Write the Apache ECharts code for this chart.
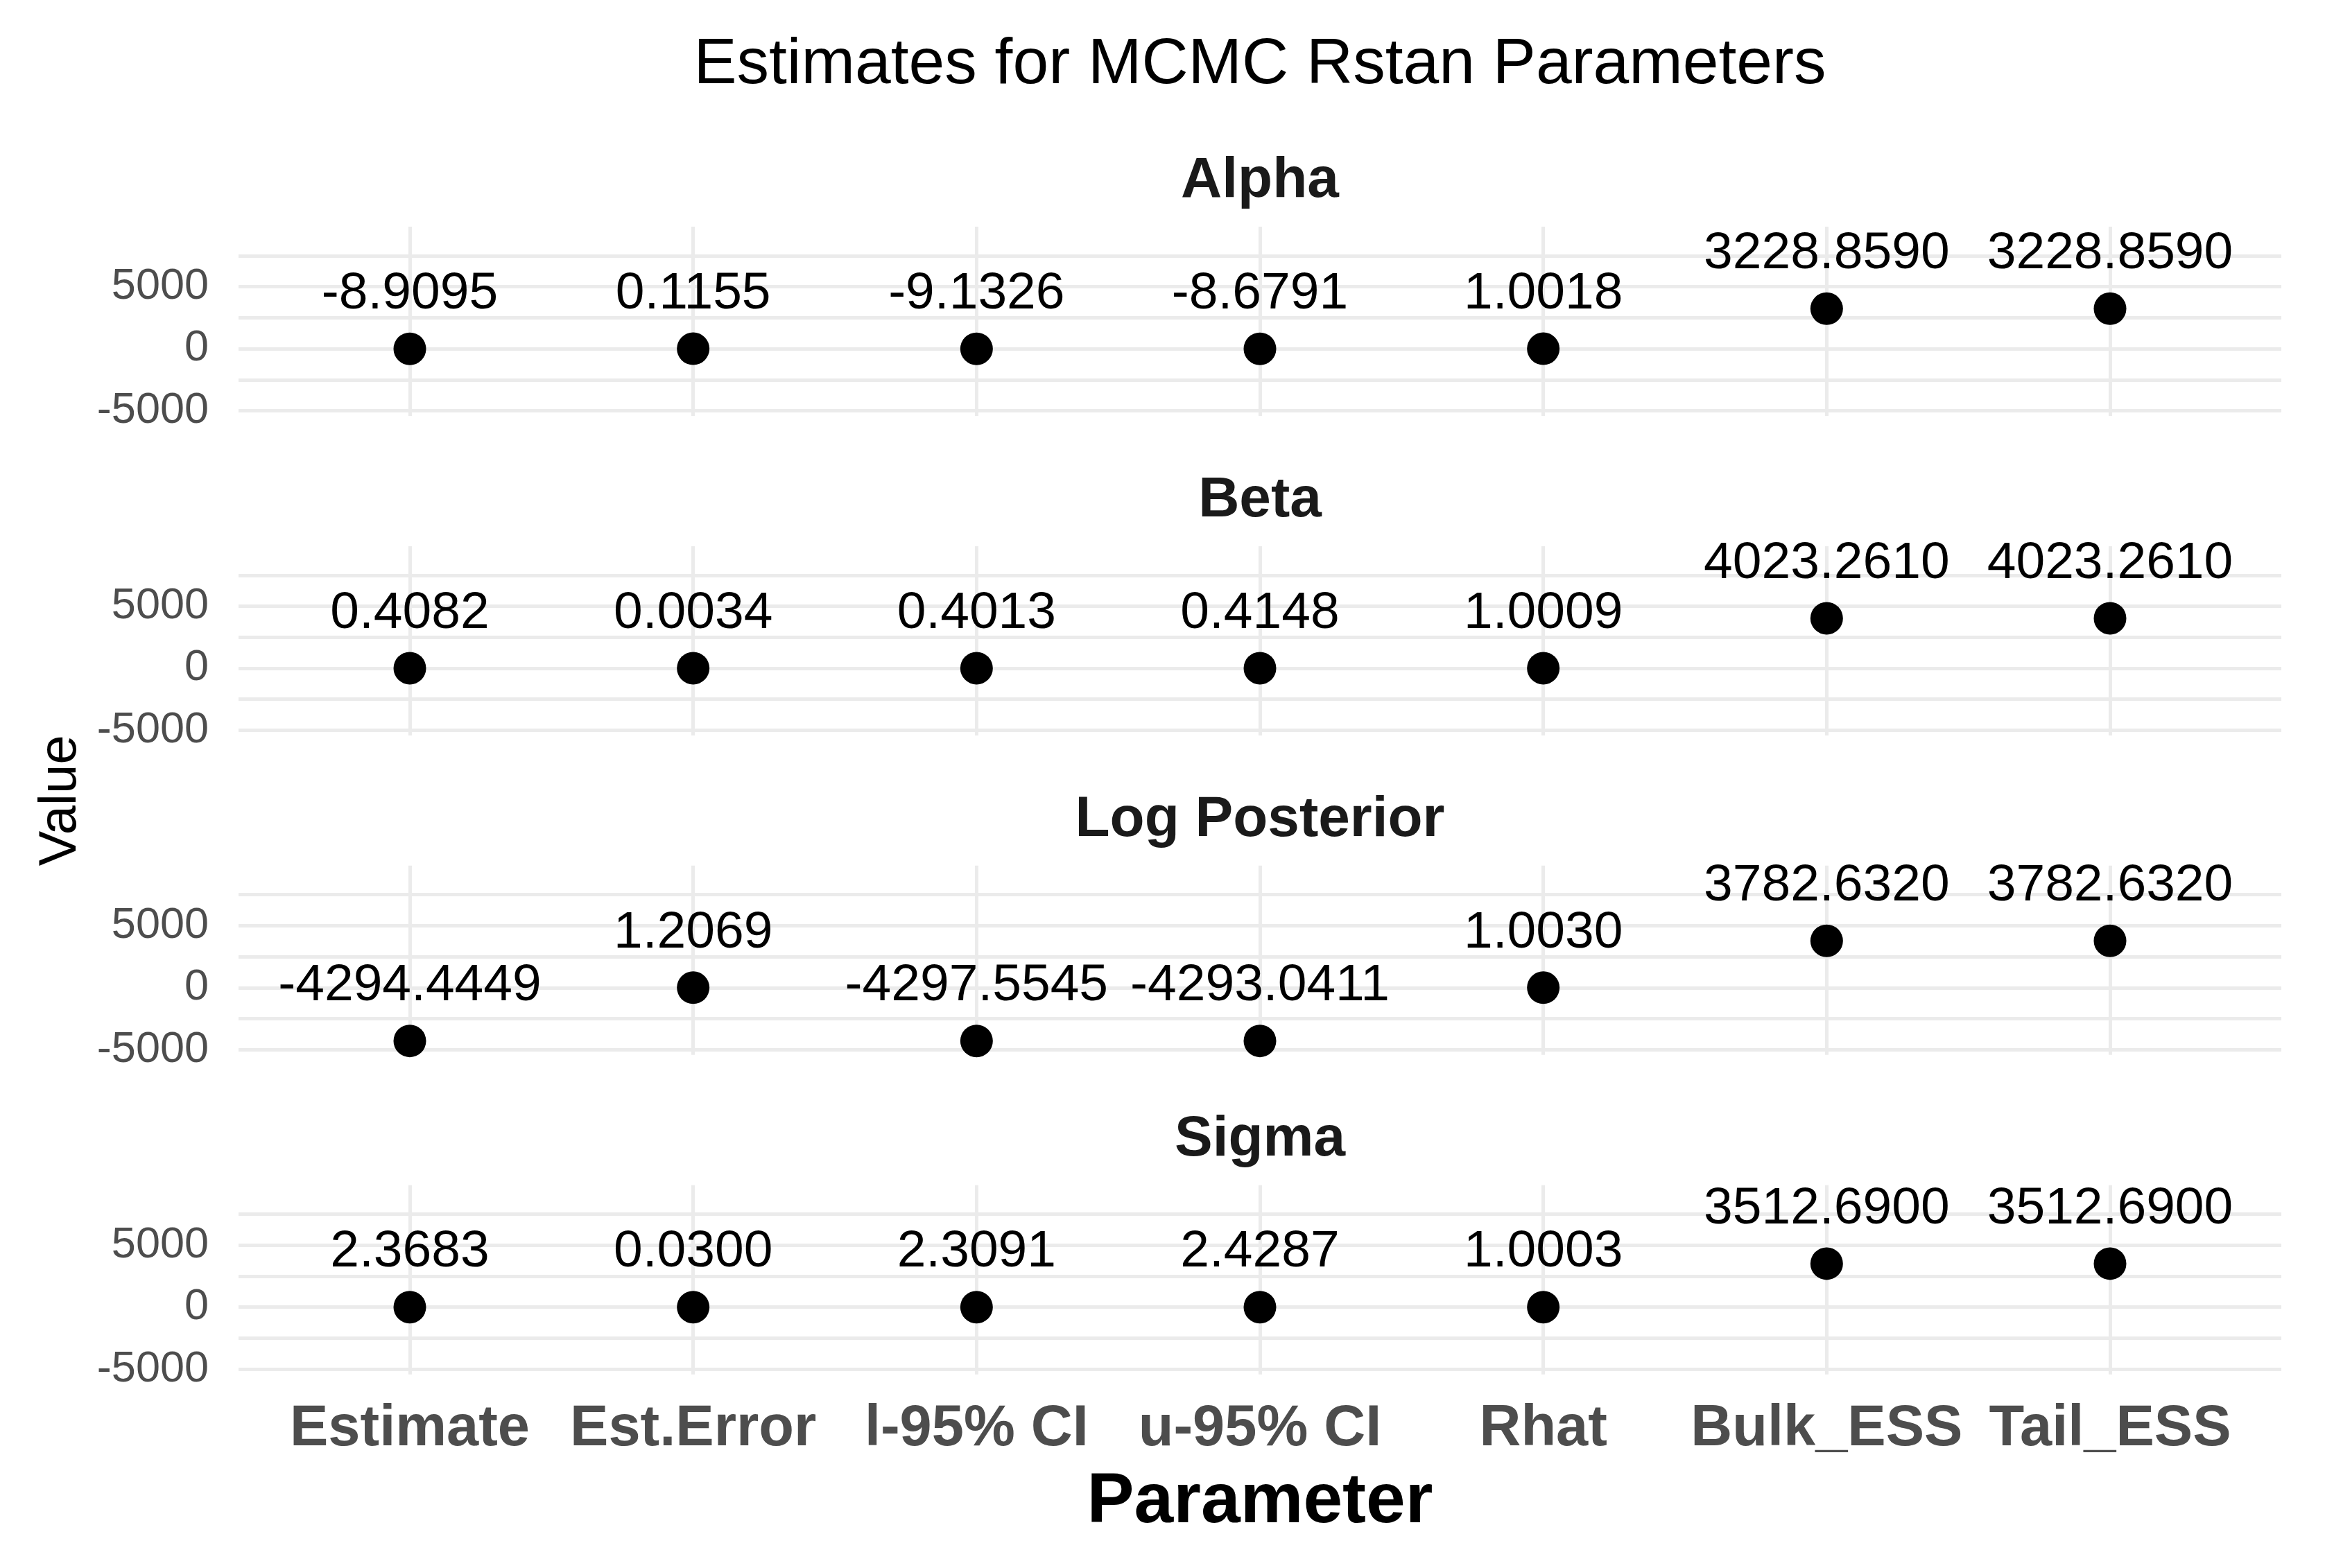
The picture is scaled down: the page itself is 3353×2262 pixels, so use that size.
<!DOCTYPE html>
<html>
<head>
<meta charset="utf-8">
<script src="https://cdn.jsdelivr.net/npm/echarts@6/dist/echarts.min.js"></script>
<style>
html,body{margin:0;padding:0;background:#ffffff;}
#chart{width:3353px;height:2262px;}
</style>
</head>
<body>
<div id="chart"></div>
<script>
// ---------------- data ----------------
const categories = ['Estimate', 'Est.Error', 'l-95% CI', 'u-95% CI', 'Rhat', 'Bulk_ESS', 'Tail_ESS'];
const panelNames = ['Alpha', 'Beta', 'Log Posterior', 'Sigma'];
const alphaValues = [-8.9095, 0.1155, -9.1326, -8.6791, 1.0018, 3228.8590, 3228.8590];
const betaValues = [0.4082, 0.0034, 0.4013, 0.4148, 1.0009, 4023.2610, 4023.2610];
const logPosteriorValues = [-4294.4449, 1.2069, -4297.5545, -4293.0411, 1.0030, 3782.6320, 3782.6320];
const sigmaValues = [2.3683, 0.0300, 2.3091, 2.4287, 1.0003, 3512.6900, 3512.6900];
const yTickLabels = [-5000, 0, 5000];
const titleText = 'Estimates for MCMC Rstan Parameters';
const xAxisTitle = 'Parameter';
const yAxisTitle = 'Value';

const panelValues = [alphaValues, betaValues, logPosteriorValues, sigmaValues];

// ---------------- layout ----------------
const FONT = '"Liberation Sans", Arial, Helvetica, sans-serif';
const SHIFT = 4;
const PANEL_LEFT = 344, PANEL_RIGHT = 3290;
const CAT_FIRST = 591, CAT_LAST = 3043;
const PANEL_TOP0 = 323 + SHIFT, PANEL_PITCH = 460.9, PANEL_H = 273;
const Y_MIN = -5420, Y_MAX = 9840;      // panel limits (data units)
const GRID_MIN = -5000, GRID_MAX = 7500, GRID_STEP = 2500;
const PPU = PANEL_H / (Y_MAX - Y_MIN);
const GRID_COLOR = '#EBEBEB';

const grids = [], xAxes = [], yAxes = [], series = [], graphics = [];

panelValues.forEach((vals, k) => {
  const top = PANEL_TOP0 + PANEL_PITCH * k;
  const bgTop = top + (Y_MAX - GRID_MAX) * PPU;
  const bgH = (GRID_MAX - GRID_MIN) * PPU;
  // background grid: horizontal gridlines + y labels
  grids.push({left: PANEL_LEFT, top: bgTop, width: PANEL_RIGHT - PANEL_LEFT, height: bgH});
  xAxes.push({type: 'value', gridIndex: 2 * k, show: false, min: 0, max: 1});
  yAxes.push({
    type: 'value', gridIndex: 2 * k, min: GRID_MIN, max: GRID_MAX, interval: GRID_STEP,
    axisLine: {show: false}, axisTick: {show: false},
    axisLabel: {
      formatter: v => (yTickLabels.indexOf(v) >= 0 ? String(v) : ''),
      color: '#4D4D4D', fontSize: 63, fontFamily: FONT, margin: 43
    },
    splitLine: {show: true, lineStyle: {color: GRID_COLOR, width: 5}}
  });
  // foreground grid: categories + points
  grids.push({left: CAT_FIRST, top: top, width: CAT_LAST - CAT_FIRST, height: PANEL_H});
  xAxes.push({
    type: 'category', gridIndex: 2 * k + 1, data: categories, boundaryGap: false,
    axisLine: {show: false}, axisTick: {show: false},
    axisLabel: {
      show: k === panelValues.length - 1, interval: 0, color: '#4D4D4D',
      fontSize: 83, fontWeight: 'bold', fontFamily: FONT, margin: 38
    },
    splitLine: {show: true, interval: 0, lineStyle: {color: GRID_COLOR, width: 5}}
  });
  yAxes.push({type: 'value', gridIndex: 2 * k + 1, min: Y_MIN, max: Y_MAX, show: false});
  series.push({
    type: 'scatter', name: panelNames[k], xAxisIndex: 2 * k + 1, yAxisIndex: 2 * k + 1,
    data: vals, symbol: 'circle', symbolSize: 47, clip: false,
    itemStyle: {color: '#000000', opacity: 1},
    label: {
      show: true, position: 'top', distance: 18,
      formatter: p => Number(p.value).toFixed(4),
      color: '#000000', opacity: 1, fontSize: 75, fontFamily: FONT
    },
    emphasis: {disabled: true}
  });
  // facet strip title
  graphics.push({
    type: 'text', x: (PANEL_LEFT + PANEL_RIGHT) / 2, y: top - 65.5,
    style: {text: panelNames[k], font: 'bold 82px ' + FONT, fill: '#1A1A1A', textAlign: 'center', textVerticalAlign: 'middle'}
  });
});

// main title
graphics.push({
  type: 'text', x: (PANEL_LEFT + PANEL_RIGHT) / 2, y: 90 + SHIFT,
  style: {text: titleText, font: '93px ' + FONT, fill: '#000000', textAlign: 'center', textVerticalAlign: 'middle'}
});
// x axis title
graphics.push({
  type: 'text', x: (PANEL_LEFT + PANEL_RIGHT) / 2, y: 2164 + SHIFT,
  style: {text: xAxisTitle, font: 'bold 102px ' + FONT, fill: '#000000', textAlign: 'center', textVerticalAlign: 'middle'}
});
// y axis title
const panelsMid = (PANEL_TOP0 + PANEL_TOP0 + PANEL_PITCH * 3 + PANEL_H) / 2;
graphics.push({
  type: 'text', x: 88, y: panelsMid, rotation: Math.PI / 2,
  style: {text: yAxisTitle, font: '76px ' + FONT, fill: '#000000', textAlign: 'center', textVerticalAlign: 'middle'}
});

const chart = echarts.init(document.getElementById('chart'), null, {renderer: 'canvas'});
chart.setOption({
  backgroundColor: '#ffffff',
  animation: false,
  textStyle: {fontFamily: FONT},
  grid: grids,
  xAxis: xAxes,
  yAxis: yAxes,
  series: series,
  graphic: graphics
});
</script>
</body>
</html>
